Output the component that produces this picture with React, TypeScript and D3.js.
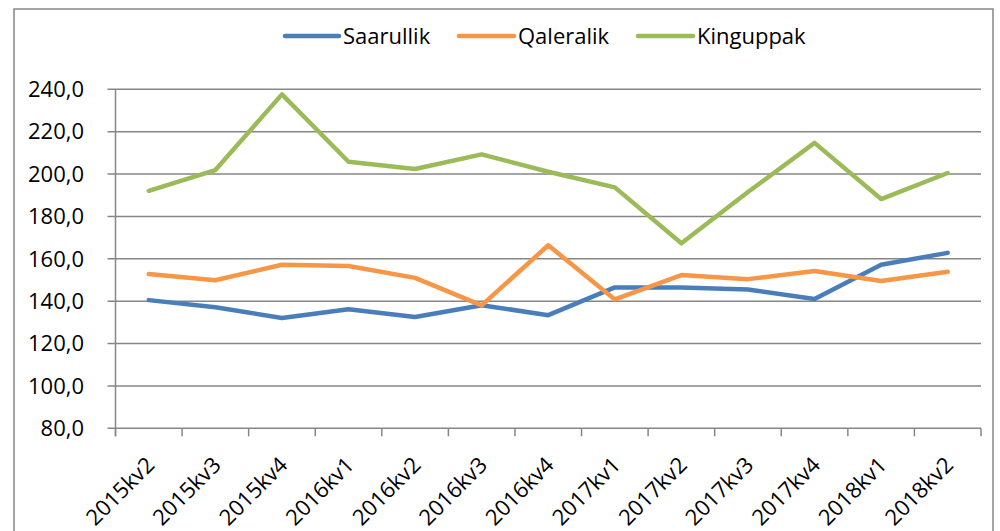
import React from "react";
import * as d3 from "d3";

const categories = [
  "2015kv2", "2015kv3", "2015kv4", "2016kv1", "2016kv2", "2016kv3", "2016kv4",
  "2017kv1", "2017kv2", "2017kv3", "2017kv4", "2018kv1", "2018kv2",
];
const saarullik = [140.5, 137.1, 132.1, 136.2, 132.5, 138.1, 133.4, 146.5, 146.5, 145.5, 141.0, 157.2, 162.8];
const qaleralik = [152.8, 149.9, 157.2, 156.6, 151.0, 138.0, 166.4, 140.8, 152.3, 150.4, 154.2, 149.5, 153.9];
const kinguppak = [192.1, 201.9, 237.6, 205.8, 202.4, 209.3, 201.1, 193.7, 167.3, 191.5, 214.7, 188.2, 200.5];
const yTicks = [80, 100, 120, 140, 160, 180, 200, 220, 240];

const seriesNames = ["Saarullik", "Qaleralik", "Kinguppak"];
const seriesData = [saarullik, qaleralik, kinguppak];
const colors = ["#4A7EBB", "#F79646", "#9BBB59"];

const FONT = "'Open Sans', 'Liberation Sans', sans-serif";
const GRID = "#868686";

export default function App() {
  const left = 115.5;
  const right = 981;
  const top = 89.3;
  const bottom = 428.3;

  const x = d3.scaleBand<string>().domain(categories).range([left, right]).padding(0);
  const y = d3.scaleLinear().domain([80, 240]).range([bottom, top]);
  const cx = (c: string) => (x(c) ?? 0) + x.bandwidth() / 2;

  const line = d3
    .line<number>()
    .x((_, i) => cx(categories[i]))
    .y((d) => y(d));

  const boundaries = categories.map((c) => x(c) ?? 0).concat([right]);

  const legendItems = [
    { lx: 285, tx: 343 },
    { lx: 459, tx: 518 },
    { lx: 638, tx: 697 },
  ];

  return (
    <svg
      width={1000}
      height={531}
      style={{ position: "absolute", left: 0, top: 0, display: "block", background: "#fff" }}
    >
      <rect x={0} y={0} width={1000} height={531} fill="#fff" />
      <rect x={14} y={9} width={979} height={560} fill="none" stroke={GRID} strokeWidth={1.5} />

      {yTicks.map((t) => (
        <g key={t}>
          <line x1={left - 8} x2={right} y1={y(t)} y2={y(t)} stroke={GRID} strokeWidth={1.5} />
          <text
            x={84}
            y={y(t)}
            dy="0.35em"
            textAnchor="end"
            fontFamily={FONT}
            fontSize={22}
            fill="#000"
          >
            {d3.format(".1f")(t).replace(".", ",")}
          </text>
        </g>
      ))}
      <line x1={left} x2={left} y1={top} y2={bottom + 8} stroke={GRID} strokeWidth={1.5} />
      {boundaries.map((b, i) => (
        <line key={i} x1={b} x2={b} y1={bottom} y2={bottom + 8} stroke={GRID} strokeWidth={1.5} />
      ))}

      {categories.map((c) => (
        <text
          key={c}
          transform={`translate(${cx(c) + 7},${bottom + 38}) rotate(-45)`}
          textAnchor="end"
          fontFamily={FONT}
          fontSize={22}
          fill="#000"
        >
          {c}
        </text>
      ))}

      {seriesData.map((s, i) => (
        <path
          key={seriesNames[i]}
          d={line(s) ?? ""}
          fill="none"
          stroke={colors[i]}
          strokeWidth={4.5}
          strokeLinejoin="round"
          strokeLinecap="round"
        />
      ))}

      {seriesNames.map((n, i) => (
        <g key={n}>
          <line
            x1={legendItems[i].lx}
            x2={legendItems[i].tx - 4}
            y1={36}
            y2={36}
            stroke={colors[i]}
            strokeWidth={4.5}
            strokeLinecap="round"
          />
          <text
            x={legendItems[i].tx}
            y={36}
            dy="0.35em"
            fontFamily={FONT}
            fontSize={22}
            fill="#000"
          >
            {n}
          </text>
        </g>
      ))}
    </svg>
  );
}
